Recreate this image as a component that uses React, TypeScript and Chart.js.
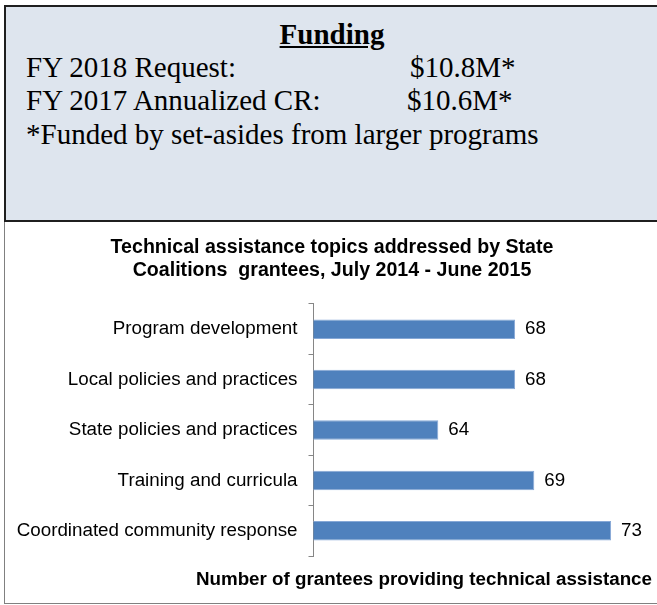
import React, { useEffect, useRef } from 'react';
import { Chart, registerables } from 'chart.js';

Chart.register(...registerables);

// ---- data ----
const categories = [
  'Program development',
  'Local policies and practices',
  'State policies and practices',
  'Training and curricula',
  'Coordinated community response',
];
const grantees = [68, 68, 64, 69, 73];
const chartTitle = [
  'Technical assistance topics addressed by State',
  'Coalitions  grantees, July 2014 - June 2015',
];
const axisTitle = 'Number of grantees providing technical assistance';
const axisMin = 57.5;
const axisMax = 75.13;

const fundingHeading = 'Funding';
const fundingLabels = ['FY 2018 Request:', 'FY 2017 Annualized CR:'];
const fundingValues = ['$10.8M*', '$10.6M*'];
const fundingNote = '*Funded by set-asides from larger programs';

const SANS = '"Liberation Sans", Arial, sans-serif';
const SERIF = '"Liberation Serif", "Times New Roman", serif';

const valueLabels = {
  id: 'valueLabels',
  afterDatasetsDraw(chart: any) {
    const ctx = chart.ctx;
    const meta = chart.getDatasetMeta(0);
    const data = chart.data.datasets[0].data;
    ctx.save();
    ctx.font = `18.8px ${SANS}`;
    ctx.fillStyle = '#000';
    ctx.textBaseline = 'middle';
    ctx.textAlign = 'left';
    meta.data.forEach((el: any, i: number) => {
      ctx.fillText(String(data[i]), el.x + 10, el.y);
    });
    ctx.restore();
  },
};

// x-axis title drawn right-aligned to the plot's right edge, at full width
const axisTitlePlugin = {
  id: 'axisTitlePlugin',
  afterDraw(chart: any) {
    const ctx = chart.ctx;
    const area = chart.chartArea;
    ctx.save();
    ctx.font = `bold 18.8px ${SANS}`;
    ctx.fillStyle = '#000';
    ctx.textBaseline = 'middle';
    ctx.textAlign = 'right';
    ctx.fillText(axisTitle, area.right, area.bottom + 24.3);
    ctx.restore();
  },
};

function BarChart() {
  const ref = useRef<HTMLCanvasElement | null>(null);
  useEffect(() => {
    if (!ref.current) return;
    const chart = new Chart(ref.current, {
      type: 'bar',
      data: {
        labels: categories,
        datasets: [
          {
            data: grantees,
            backgroundColor: '#4f81bd',
            borderColor: '#86a8d6',
            borderWidth: 1,
            categoryPercentage: 1,
            barPercentage: 0.387,
          },
        ],
      },
      plugins: [valueLabels, axisTitlePlugin],
      options: {
        indexAxis: 'y',
        animation: false,
        responsive: false,
        devicePixelRatio: 1,
        layout: { padding: { left: 7, right: 5, top: 0, bottom: 47 } },
        plugins: {
          legend: { display: false },
          tooltip: { enabled: false },
          title: {
            display: true,
            text: chartTitle,
            color: '#000',
            font: { family: SANS, size: 19.6, weight: 'bold', lineHeight: 1.15 },
            padding: { top: 14.5, bottom: 22.4 },
          },
        },
        scales: {
          x: {
            display: false,
            min: axisMin,
            max: axisMax,
          },
          y: {
            afterFit: (scale: any) => {
              scale.width = 301.5;
            },
            ticks: {
              color: '#000',
              font: { family: SANS, size: 18.8 },
              padding: 11,
            },
            grid: {
              display: true,
              drawOnChartArea: false,
              drawTicks: true,
              tickLength: 5,
              color: '#868686',
              offset: true,
            },
            border: { display: true, color: '#868686', width: 1 },
          },
        },
      },
    } as any);
    return () => chart.destroy();
  }, []);
  return (
    <canvas
      ref={ref}
      width={652}
      height={381}
      style={{ position: 'absolute', left: 5, top: 222, width: 652, height: 381 }}
    />
  );
}

export default function App() {
  const textBase: React.CSSProperties = {
    position: 'absolute',
    fontFamily: SERIF,
    fontSize: 29,
    lineHeight: '33.4px',
    color: '#000',
    whiteSpace: 'nowrap',
  };
  return (
    <div
      style={{
        position: 'absolute',
        left: 0,
        top: 0,
        width: 657,
        height: 605,
        overflow: 'hidden',
        background: '#fff',
      }}
    >
      <div
        style={{
          position: 'absolute',
          left: 4,
          top: 5,
          width: 700,
          height: 217,
          boxSizing: 'border-box',
          border: '2px solid #1f1f1f',
          background: '#dee5ee',
        }}
      />
      <div
        style={{
          ...textBase,
          left: 0,
          width: 664,
          top: 17.5,
          textAlign: 'center',
          fontWeight: 'bold',
          textDecoration: 'underline',
        }}
      >
        {fundingHeading}
      </div>
      <div style={{ ...textBase, left: 26, top: 50.8 }}>{fundingLabels[0]}</div>
      <div style={{ ...textBase, left: 410, top: 50.8 }}>{fundingValues[0]}</div>
      <div style={{ ...textBase, left: 26, top: 84.2 }}>{fundingLabels[1]}</div>
      <div style={{ ...textBase, left: 407, top: 84.2 }}>{fundingValues[1]}</div>
      <div style={{ ...textBase, left: 26, top: 117.5 }}>{fundingNote}</div>

      <div style={{ position: 'absolute', left: 4, top: 222, width: 1, height: 382, background: '#808080' }} />
      <div style={{ position: 'absolute', left: 4, top: 603, width: 700, height: 1, background: '#808080' }} />
      <BarChart />
    </div>
  );
}
